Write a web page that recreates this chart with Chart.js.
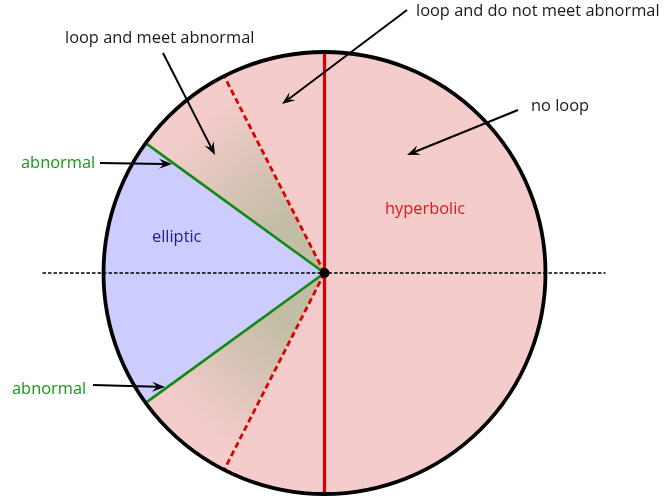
<!DOCTYPE html>
<html>
<head>
<meta charset="utf-8">
<script src="https://cdn.jsdelivr.net/npm/chart.js@4/dist/chart.umd.min.js"></script>
<style>
  html, body { margin: 0; padding: 0; background: #fff; }
  #wrap { width: 666px; height: 504px; }
</style>
</head>
<body>
<div id="wrap"><canvas id="disc" width="666" height="504"></canvas></div>
<script>
// sectors of the disc, clockwise from the top, in degrees
const regionNames = ["no loop", "loop and do not meet abnormal", "loop and meet abnormal",
                     "elliptic", "loop and meet abnormal", "loop and do not meet abnormal"];
const regionSweeps = [180, 27, 27, 72, 27, 27];
// kind of line on the start edge of each sector
const edgeKinds = ["solid", "solid", "dashed", "green", "green", "dashed"];
const fillKinds = ["pink", "pink", "fade", "blue", "fade", "pink"];

// annotations: text, colour, text x / baseline, arrow from -> to
const notes = [
    { text: "loop and meet abnormal", color: "#1a1a1a", x: 65, y: 43, from: [163, 53], to: [215, 155] },
    { text: "loop and do not meet abnormal", color: "#1a1a1a", x: 416, y: 16, from: [407, 10], to: [282, 104] },
    { text: "no loop", color: "#1a1a1a", x: 531, y: 111, from: [518, 110], to: [407, 155] },
    { text: "abnormal", color: "#1a961a", x: 21, y: 168, from: [100, 163], to: [172, 164] },
    { text: "abnormal", color: "#1a961a", x: 12, y: 394, from: [93, 385], to: [165, 387] },
    { text: "hyperbolic", color: "#dd1818", x: 385, y: 214 },
    { text: "elliptic", color: "#1e1e8c", x: 152, y: 242 }
];

const PINK = "rgb(245,204,204)";
const BLUE = "rgb(204,204,255)";

function sectorFill(c) {
    const kind = fillKinds[c.dataIndex];
    if (kind === "pink") return PINK;
    if (kind === "blue") return BLUE;
    const area = c.chart.chartArea;
    if (!area) return PINK;
    const cx = (area.left + area.right) / 2, cy = (area.top + area.bottom) / 2;
    const r = Math.min(area.right - area.left, area.bottom - area.top) / 2;
    const g = c.chart.ctx.createRadialGradient(cx, cy, 0, cx, cy, r);
    g.addColorStop(0, "rgb(192,189,163)");
    g.addColorStop(0.3, "rgb(195,189,165)");
    g.addColorStop(0.9, PINK);
    return g;
}

function arrow(ctx, from, to) {
    const a = Math.atan2(to[1] - from[1], to[0] - from[0]);
    const len = 13, half = 5, notch = 8;
    const bx = to[0] - Math.cos(a) * notch, by = to[1] - Math.sin(a) * notch;
    ctx.beginPath();
    ctx.moveTo(from[0], from[1]);
    ctx.lineTo(bx, by);
    ctx.stroke();
    ctx.beginPath();
    ctx.moveTo(to[0], to[1]);
    ctx.lineTo(to[0] - Math.cos(a) * len - Math.sin(a) * half, to[1] - Math.sin(a) * len + Math.cos(a) * half);
    ctx.lineTo(bx, by);
    ctx.lineTo(to[0] - Math.cos(a) * len + Math.sin(a) * half, to[1] - Math.sin(a) * len - Math.cos(a) * half);
    ctx.closePath();
    ctx.fill();
}

const overlay = {
    id: "overlay",
    afterDatasetsDraw(chart) {
        const ctx = chart.ctx;
        const arcs = chart.getDatasetMeta(0).data;
        const cx = arcs[0].x, cy = arcs[0].y, r = arcs[0].outerRadius;
        ctx.save();

        // dotted horizontal axis
        ctx.strokeStyle = "#000";
        ctx.lineWidth = 1.6;
        ctx.setLineDash([3.5, 2]);
        ctx.beginPath();
        ctx.moveTo(cx - 282, cy);
        ctx.lineTo(cx + 281, cy);
        ctx.stroke();

        const edge = (i) => {
            const a = arcs[i].startAngle;
            ctx.beginPath();
            ctx.moveTo(cx, cy);
            ctx.lineTo(cx + Math.cos(a) * r, cy + Math.sin(a) * r);
            ctx.stroke();
        };
        // dashed red edges
        ctx.strokeStyle = "#dd0000";
        ctx.lineWidth = 2.8;
        ctx.setLineDash([6, 3.5]);
        edgeKinds.forEach((k, i) => { if (k === "dashed") edge(i); });
        // green edges
        ctx.setLineDash([]);
        ctx.strokeStyle = "#108a10";
        ctx.lineWidth = 2.6;
        edgeKinds.forEach((k, i) => { if (k === "green") edge(i); });
        // solid red diameter
        ctx.strokeStyle = "#dd0000";
        ctx.lineWidth = 3.2;
        edgeKinds.forEach((k, i) => { if (k === "solid") edge(i); });

        // outline
        ctx.strokeStyle = "#000";
        ctx.lineWidth = 3.8;
        ctx.beginPath();
        ctx.arc(cx, cy, r, 0, Math.PI * 2);
        ctx.stroke();

        // centre dot
        ctx.fillStyle = "#000";
        ctx.beginPath();
        ctx.arc(cx, cy, 5, 0, Math.PI * 2);
        ctx.fill();

        // notes and arrows
        ctx.font = "16.4px 'Open Sans'";
        ctx.textBaseline = "alphabetic";
        ctx.lineWidth = 2;
        notes.forEach(n => {
            ctx.fillStyle = n.color;
            ctx.fillText(n.text, n.x, n.y);
            if (n.from) {
                ctx.strokeStyle = "#000";
                ctx.fillStyle = "#000";
                arrow(ctx, n.from, n.to);
            }
        });
        ctx.restore();
    }
};

new Chart(document.getElementById("disc"), {
    type: "pie",
    data: {
        labels: regionNames,
        datasets: [{
            data: regionSweeps,
            backgroundColor: sectorFill,
            borderWidth: 0,
            hoverOffset: 0,
            offset: 0
        }]
    },
    options: {
        responsive: false,
        animation: false,
        events: [],
        layout: { padding: { left: 103, right: 120, top: 52, bottom: 10 } },
        plugins: {
            legend: { display: false },
            tooltip: { enabled: false }
        }
    },
    plugins: [overlay]
});
</script>
</body>
</html>
